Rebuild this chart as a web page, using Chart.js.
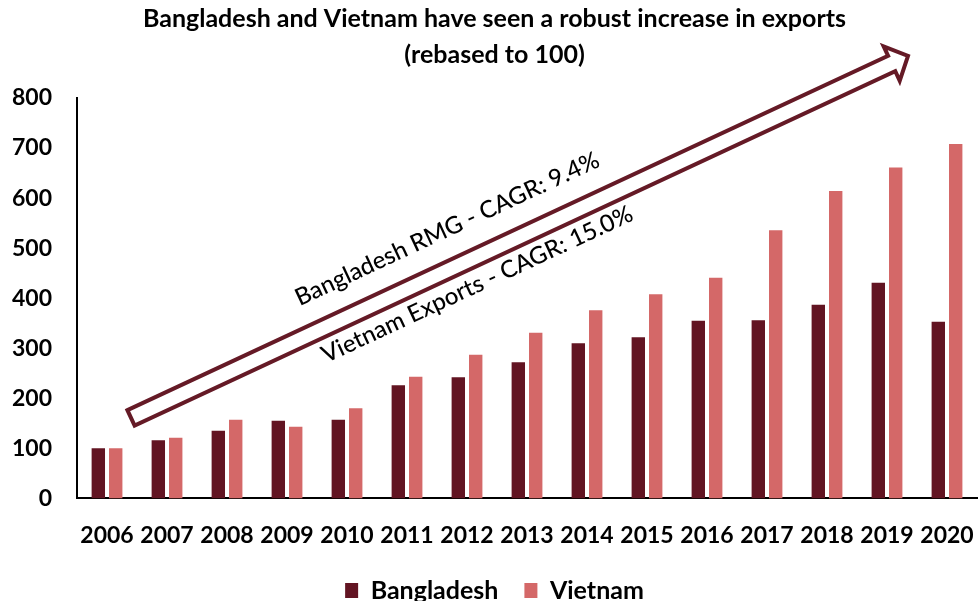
<!DOCTYPE html>
<html>
<head>
<meta charset="utf-8">
<script src="https://cdn.jsdelivr.net/npm/chart.js@4.4.1/dist/chart.umd.min.js"></script>
<style>
    html, body { margin: 0; padding: 0; background: #fff; }
    #wrap { width: 978px; height: 601px; }
</style>
</head>
<body>
<div id="wrap"><canvas id="exportsChart" width="978" height="601"></canvas></div>
<script>
// export index, rebased to 100 in 2006
var years = ['2006', '2007', '2008', '2009', '2010', '2011', '2012', '2013', '2014', '2015', '2016', '2017', '2018', '2019', '2020'];
var bangladesh = [100, 116, 135, 155, 157, 226, 242, 272, 310, 322, 355, 356, 387, 431, 353];
var vietnam = [100, 121, 157, 143, 180, 243, 287, 331, 376, 408, 441, 536, 614, 661, 708];
var yTicks = [0, 100, 200, 300, 400, 500, 600, 700, 800];

var titleLines = ['Bangladesh and Vietnam have seen a robust increase in exports', '(rebased to 100)'];
var trendLabels = ['Bangladesh RMG - CAGR: 9.4%', 'Vietnam Exports - CAGR: 15.0%'];

var DARK = '#621422';
var LIGHT = '#d46868';
var ARROW = '#651a26';

// hollow trend arrow, ends given in scale units (category index, index value)
var trendArrow = {
    from: { x: 0.4, y: 161 },
    to: { x: 13.35, y: 884 },
    shaftHalf: 8.5,
    headHalf: 19,
    headLen: 18
};

var arrowPlugin = {
    id: 'trendArrow',
    afterDatasetsDraw: function(chart) {
        var ctx = chart.ctx;
        var xs = chart.scales.x, ys = chart.scales.y;
        var x0 = xs.getPixelForValue(trendArrow.from.x), y0 = ys.getPixelForValue(trendArrow.from.y);
        var x1 = xs.getPixelForValue(trendArrow.to.x), y1 = ys.getPixelForValue(trendArrow.to.y);
        var len = Math.hypot(x1 - x0, y1 - y0);
        var ang = Math.atan2(y1 - y0, x1 - x0);
        var s = trendArrow.shaftHalf, h = trendArrow.headHalf, hl = trendArrow.headLen;

        ctx.save();
        ctx.translate(x0, y0);
        ctx.rotate(ang);

        ctx.beginPath();
        ctx.moveTo(0, -s);
        ctx.lineTo(len - hl, -s);
        ctx.lineTo(len - hl, -h);
        ctx.lineTo(len, 0);
        ctx.lineTo(len - hl, h);
        ctx.lineTo(len - hl, s);
        ctx.lineTo(0, s);
        ctx.closePath();
        ctx.lineWidth = 4;
        ctx.lineJoin = 'miter';
        ctx.strokeStyle = ARROW;
        ctx.stroke();

        // CAGR labels run along the shaft, one above and one below
        ctx.fillStyle = '#000';
        ctx.font = '500 24px Lato';
        ctx.textAlign = 'left';
        ctx.textBaseline = 'alphabetic';
        ctx.fillText(trendLabels[0], 200, -30);
        ctx.fillText(trendLabels[1], 200, 33);
        ctx.restore();
    }
};

Chart.defaults.font.family = 'Lato';
Chart.defaults.color = '#000';

new Chart(document.getElementById('exportsChart'), {
    type: 'bar',
    data: {
        labels: years,
        datasets: [{
            label: 'Bangladesh',
            data: bangladesh,
            backgroundColor: DARK,
            categoryPercentage: 0.58,
            barPercentage: 0.77
        }, {
            label: 'Vietnam',
            data: vietnam,
            backgroundColor: LIGHT,
            categoryPercentage: 0.58,
            barPercentage: 0.77
        }]
    },
    options: {
        responsive: false,
        animation: false,
        // negative bottom lets the legend's lower padding fall off the canvas
        layout: { padding: { left: 12, right: 1, top: 0, bottom: -12 } },
        plugins: {
            title: {
                display: true,
                text: titleLines,
                color: '#000',
                font: { size: 25, weight: 'bold', lineHeight: 1.44 },
                padding: { top: 1, bottom: 25 }
            },
            legend: {
                position: 'bottom',
                labels: {
                    boxWidth: 13,
                    boxHeight: 15,
                    padding: 26,
                    color: '#000',
                    font: { size: 25, weight: 'bold' }
                }
            },
            tooltip: { enabled: false }
        },
        scales: {
            x: {
                grid: { display: false, drawTicks: true, tickLength: 20 },
                border: { display: true, color: '#000', width: 2 },
                ticks: {
                    padding: 0,
                    maxRotation: 0,
                    autoSkip: false,
                    font: { size: 23, weight: 'bold', lineHeight: 1.46 }
                },
                // year labels fit inside their slots, no side padding needed
                afterFit: function(scale) {
                    scale.paddingLeft = 0;
                    scale.paddingRight = 0;
                }
            },
            y: {
                min: 0,
                max: 800,
                grid: { display: false, drawTicks: false },
                border: { display: true, color: '#000', width: 2 },
                afterBuildTicks: function(axis) {
                    axis.ticks = yTicks.map(function(v) { return { value: v }; });
                },
                ticks: {
                    padding: 25,
                    font: { size: 23, weight: 'bold' }
                },
                // drop the spare gap left of the labels
                afterFit: function(scale) {
                    scale.width -= scale.options.ticks.padding;
                }
            }
        }
    },
    plugins: [arrowPlugin]
});
</script>
</body>
</html>
